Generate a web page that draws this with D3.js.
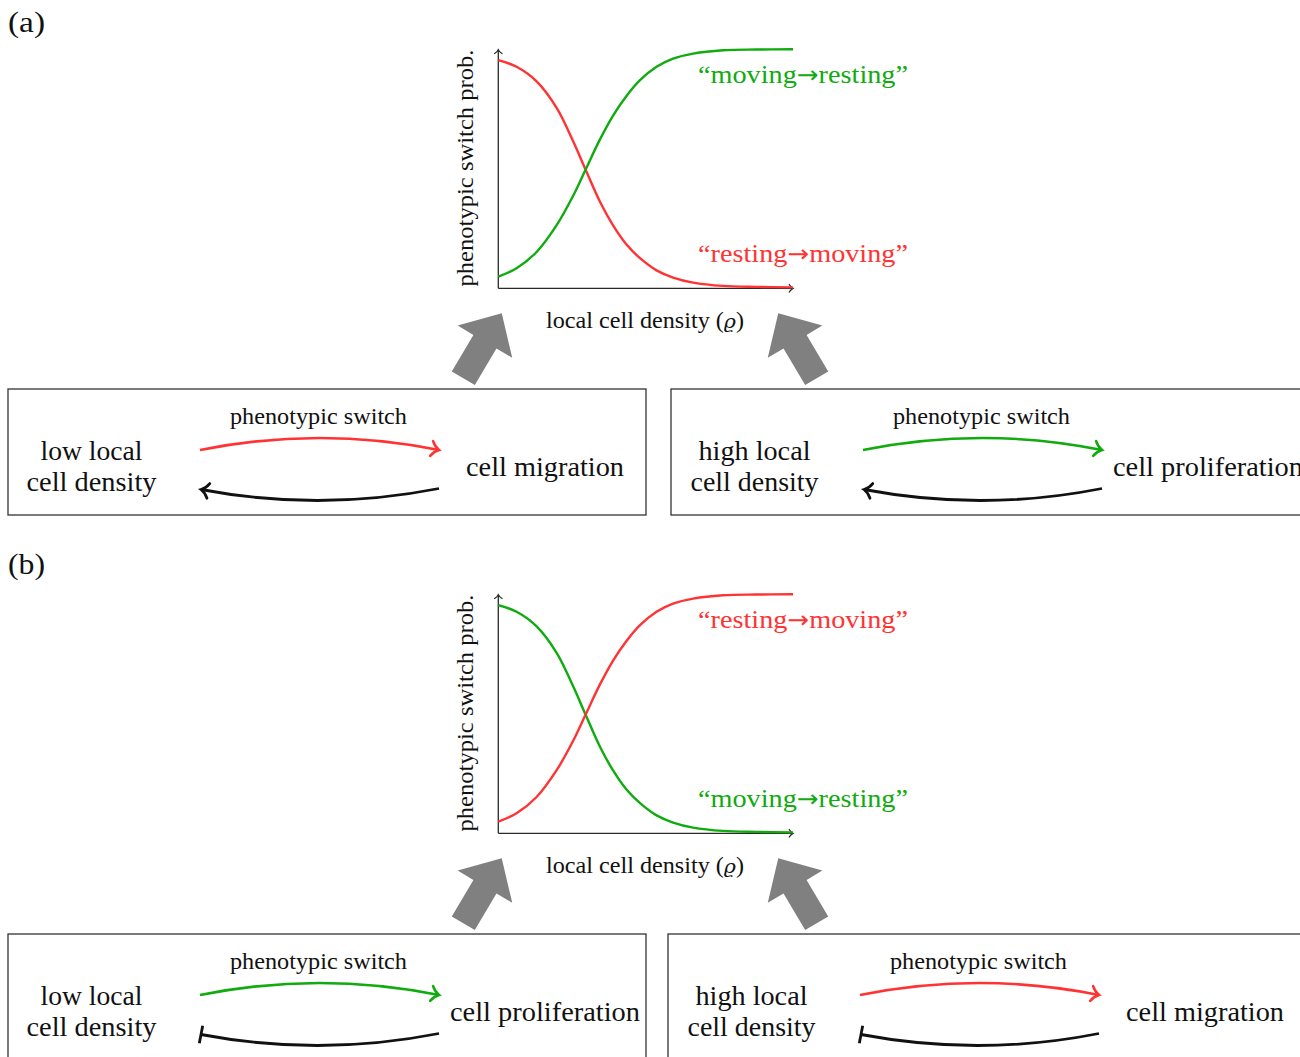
<!DOCTYPE html>
<html>
<head>
<meta charset="utf-8">
<script src="https://cdn.jsdelivr.net/npm/d3@7"></script>
<style>
  body { margin: 0; background: #fff; }
  svg { display: block; }
</style>
</head>
<body>
<svg id="fig" width="1300" height="1057"></svg>
<script>
// Normalised local cell density (x) and the two sigmoidal switch probabilities
const density     = [0, 0.062, 0.130, 0.198, 0.254, 0.296, 0.345, 0.390, 0.435, 0.480, 0.537, 0.593, 0.661, 0.763, 0.876, 1.0];
const risingProb  = [0.049, 0.084, 0.152, 0.264, 0.387, 0.496, 0.623, 0.724, 0.805, 0.870, 0.927, 0.961, 0.982, 0.996, 0.999, 1.0];
const fallingProb = [0.955, 0.927, 0.866, 0.755, 0.615, 0.497, 0.362, 0.262, 0.183, 0.127, 0.075, 0.045, 0.024, 0.010, 0.006, 0.004];

// Texts
const panelLabels  = ["(a)", "(b)"];
const switchNames  = [["“moving", "→", "resting”"], ["“resting", "→", "moving”"]];
const xAxisLabel   = ["local cell density (", "ϱ", ")"];
const yAxisLabel   = "phenotypic switch prob.";
const boxTitle     = "phenotypic switch";
const densityLines = { low: ["low local", "cell density"], high: ["high local", "cell density"] };
const behaviours   = ["cell migration", "cell proliferation"];

const RED = "#ff3333", GREEN = "#0fab0f", GREY = "#808080", INK = "#111";
const SERIF = "'Liberation Serif', 'Times New Roman', serif";

const svg = d3.select("#fig");

function label(g, txt, x, y, size, len, anchor, color) {
  return g.append("text")
    .attr("x", x).attr("y", y)
    .attr("font-family", SERIF)
    .attr("font-size", size)
    .attr("fill", color || INK)
    .attr("text-anchor", anchor || "start")
    .attr("textLength", len)
    .attr("lengthAdjust", "spacingAndGlyphs")
    .text(txt);
}

// Switch name with a proper long arrow between the two states
function switchLabel(g, parts, x, y, color) {
  const t = g.append("text").attr("x", x).attr("y", y)
    .attr("font-family", SERIF).attr("font-size", 26).attr("fill", color)
    .attr("textLength", 210).attr("lengthAdjust", "spacingAndGlyphs");
  t.append("tspan").text(parts[0]);
  t.append("tspan").attr("font-family", "'DejaVu Sans', sans-serif").attr("font-size", 24).text(parts[1]);
  t.append("tspan").text(parts[2]);
}

// Thin open arrow tip ("to" style), drawn at (x,y) pointing along angle (deg)
function tip(g, x, y, angle, color, w, s) {
  s = s || 1;
  g.append("path")
    .attr("d", `M${-7.5*s},${-7.5*s} C${-5*s},${-3*s} ${-2*s},${-1*s} 0,0 C${-2*s},${1*s} ${-5*s},${3*s} ${-7.5*s},${7.5*s}`)
    .attr("transform", `translate(${x},${y}) rotate(${angle})`)
    .attr("fill", "none").attr("stroke", color)
    .attr("stroke-width", w).attr("stroke-linecap", "round");
}

// Broad grey block arrow, tail centre at (x,y), pointing along angle (deg)
function blockArrow(g, x, y, angle) {
  const shape = [[0,-13.4],[42.5,-13.4],[42.5,-31.7],[75.5,0],[42.5,31.7],[42.5,13.4],[0,13.4]];
  g.append("path")
    .attr("d", d3.line()(shape) + "Z")
    .attr("transform", `translate(${x},${y}) rotate(${angle})`)
    .attr("fill", GREY);
}

// One "density → behaviour" box with forward switch and feedback
function stateBox(g, L, T, spec) {
  const W = 638, H = 126;
  g.append("rect").attr("x", L).attr("y", T).attr("width", W).attr("height", H)
    .attr("fill", "none").attr("stroke", "#333").attr("stroke-width", 1.3);

  label(g, boxTitle, L + 310.5, T + 35, 22.3, 177, "middle");
  label(g, spec.left[0], L + 83.5, T + 71, 26.3, spec.leftLen[0], "middle");
  label(g, spec.left[1], L + 83.5, T + 102, 26.3, spec.leftLen[1], "middle");
  label(g, spec.right, L + 537, T + 87, 26.3, spec.rightLen, "middle");

  // forward switch (bent up)
  const a0 = [L + 192, T + 61], a1 = [L + 431, T + 61], ac = [L + 311.5, T + 37];
  g.append("path")
    .attr("d", `M${a0[0]},${a0[1]} Q${ac[0]},${ac[1]} ${a1[0]},${a1[1]}`)
    .attr("fill", "none").attr("stroke", spec.color).attr("stroke-width", 2.6);
  tip(g, a1[0], a1[1], Math.atan2(a1[1] - ac[1], a1[0] - ac[0]) * 180 / Math.PI, spec.color, 2.6);

  // feedback (bent down): arrow or inhibition bar
  const b0 = [L + 431, T + 99.5], b1 = [L + 193, T + 100.5], bc = [L + 312, T + 123];
  g.append("path")
    .attr("d", `M${b0[0]},${b0[1]} Q${bc[0]},${bc[1]} ${b1[0]},${b1[1]}`)
    .attr("fill", "none").attr("stroke", INK).attr("stroke-width", 2.8);
  const ang = Math.atan2(b1[1] - bc[1], b1[0] - bc[0]) * 180 / Math.PI;
  if (spec.inhibit) {
    g.append("line")
      .attr("x1", 0).attr("y1", -9).attr("x2", 0).attr("y2", 9)
      .attr("transform", `translate(${b1[0]},${b1[1]}) rotate(${ang})`)
      .attr("stroke", INK).attr("stroke-width", 2.8);
  } else {
    tip(g, b1[0], b1[1], ang, INK, 2.8);
  }
}

const panels = [
  {
    label: panelLabels[0], dy: 0, labelY: 32,
    risingColor: GREEN, risingName: switchNames[0],
    fallingColor: RED, fallingName: switchNames[1],
    boxes: [
      { L: 8,   left: densityLines.low,  leftLen: [102, 130], right: behaviours[0], rightLen: 158, color: RED,   inhibit: false },
      { L: 671, left: densityLines.high, leftLen: [112, 128], right: behaviours[1], rightLen: 190, color: GREEN, inhibit: false }
    ]
  },
  {
    label: panelLabels[1], dy: 545, labelY: 574,
    risingColor: RED, risingName: switchNames[1],
    fallingColor: GREEN, fallingName: switchNames[0],
    boxes: [
      { L: 8,   left: densityLines.low,  leftLen: [102, 130], right: behaviours[1], rightLen: 190, color: GREEN, inhibit: true },
      { L: 668, left: densityLines.high, leftLen: [112, 128], right: behaviours[0], rightLen: 158, color: RED,   inhibit: true }
    ]
  }
];

panels.forEach(p => {
  const g = svg.append("g");
  const x = d3.scaleLinear().domain([0, 1]).range([498.3, 793]);
  const y = d3.scaleLinear().domain([0, 1]).range([288.3 + p.dy, 49.3 + p.dy]);

  label(g, p.label, 8, p.labelY, 28.7, 37, "start");

  // axes
  const axisCol = "#2a2a2a";
  g.append("line").attr("x1", x(0)).attr("y1", y(0)).attr("x2", x(1)).attr("y2", y(0))
    .attr("stroke", axisCol).attr("stroke-width", 1.3);
  g.append("line").attr("x1", x(0)).attr("y1", y(0)).attr("x2", x(0)).attr("y2", y(1) + 0.5)
    .attr("stroke", axisCol).attr("stroke-width", 1.3);
  tip(g, x(1), y(0), 0, axisCol, 1.3, 0.5);
  tip(g, x(0), y(1) + 0.5, -90, axisCol, 1.3, 0.5);

  // curves
  const line = d3.line().x(d => x(d[0])).y(d => y(d[1])).curve(d3.curveCatmullRom.alpha(0.5));
  const risingPts  = density.map((d, i) => [d, risingProb[i]]);
  const fallingPts = density.map((d, i) => [d, fallingProb[i]]);
  g.append("path").attr("d", line(fallingPts)).attr("fill", "none")
    .attr("stroke", p.fallingColor).attr("stroke-width", 2.4);
  g.append("path").attr("d", line(risingPts)).attr("fill", "none")
    .attr("stroke", p.risingColor).attr("stroke-width", 2.4);

  switchLabel(g, p.risingName, 698, 83 + p.dy, p.risingColor);
  switchLabel(g, p.fallingName, 698, 262 + p.dy, p.fallingColor);

  // axis titles
  const xt = g.append("text").attr("x", 546).attr("y", 328 + p.dy)
    .attr("font-family", SERIF).attr("font-size", 22.3).attr("fill", INK)
    .attr("textLength", 198).attr("lengthAdjust", "spacingAndGlyphs");
  xt.append("tspan").text(xAxisLabel[0]);
  xt.append("tspan").attr("font-style", "italic").attr("font-family", "'DejaVu Serif', serif")
    .attr("font-size", 19).text(xAxisLabel[1]);
  xt.append("tspan").text(xAxisLabel[2]);

  label(g, yAxisLabel, 0, 0, 22.3, 237, "middle")
    .attr("transform", `translate(473,${168 + p.dy}) rotate(-90)`);

  // grey block arrows pointing from the boxes to the plot
  blockArrow(g, 463.3, 378.3 + p.dy, -59.4);
  blockArrow(g, 816.7, 378.3 + p.dy, -120.6);

  p.boxes.forEach(b => stateBox(g, b.L, 389 + p.dy, b));
});
</script>
</body>
</html>
